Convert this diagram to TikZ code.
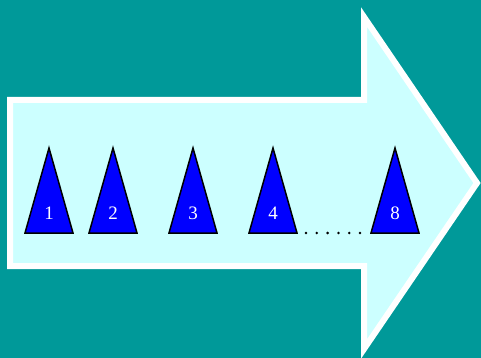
\documentclass[tikz,border=0pt]{standalone}
\usepackage{fontspec}
\setmainfont{Liberation Serif}
\definecolor{teal0}{HTML}{009999}
\definecolor{paleC}{HTML}{CCFFFF}
\definecolor{blue0}{HTML}{0000FF}
\begin{document}
\begin{tikzpicture}[x=1pt,y=-1pt,
  bigarrow/.style={fill=paleC,draw=white,line width=6pt,line join=miter},
  tri/.style={fill=blue0,draw=black,line width=1.5pt,line join=miter},
  num/.style={text=white,font=\fontsize{19}{19}\selectfont,inner sep=0pt,anchor=base},
  dotmark/.style={fill=black,draw=none}]
\fill[teal0] (0,0) rectangle (481,358);
\useasboundingbox (0,0) rectangle (481,358);
\draw[bigarrow] (10,100) -- (364,100) -- (364,17) -- (477,183) -- (364,349) -- (364,266) -- (10,266) -- cycle;
\foreach \n/\cx in {1/49,2/113,3/193,4/273,8/395}{
  \draw[tri] (\cx-24,233) -- (\cx,148) -- (\cx+24,233) -- cycle;
  \node[num] (t\n) at (\cx,219.5) {\n};
}
\foreach \i in {0,...,5}{
  \fill[dotmark] (306+\i*10.8,233) circle (1.4);
}
\end{tikzpicture}
\end{document}
